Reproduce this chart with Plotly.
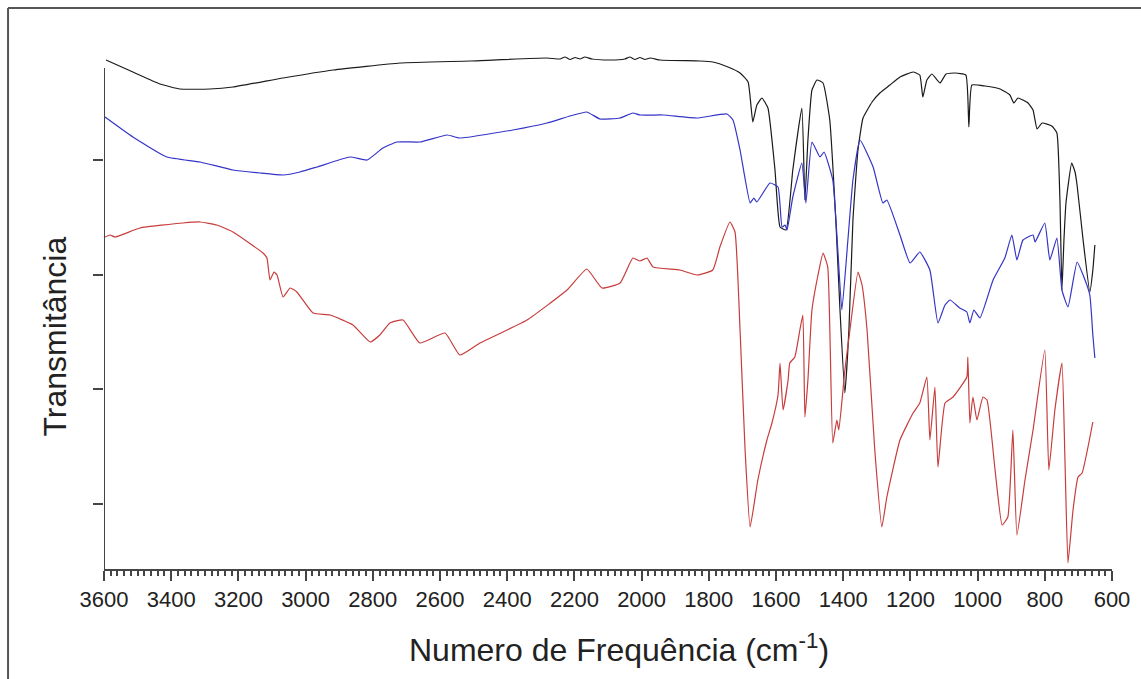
import plotly.graph_objects as go

# Wavenumber (cm-1) and transmittance (arbitrary units) for the three spectra
black_wn = [3594, 3514, 3433, 3374, 3285, 3216, 3067, 2918, 2719, 2511, 2282,
            2243, 2228, 2213, 2198, 2183, 2169, 2148, 2094, 2050, 2035, 2020, 2005,
            1990, 1975, 1945, 1826, 1788, 1743, 1707, 1683, 1669, 1657, 1642, 1624,
            1603, 1588, 1570, 1550, 1523, 1514, 1505, 1493, 1478, 1460, 1440, 1422,
            1410, 1395, 1383, 1371, 1356, 1341, 1314, 1291, 1261, 1231, 1192, 1172,
            1163, 1151, 1136, 1112, 1094, 1067, 1035, 1026, 1017, 978, 933, 904,
            892, 880, 850, 835, 823, 808, 779, 764, 755, 749, 743, 737, 720, 710,
            704, 686, 666, 657, 651]
black_t = [101.8, 99.4, 97.0, 96.0, 96.0, 96.4, 98.2, 99.8, 101.2, 101.6, 102.2,
           102.0, 102.4, 101.9, 102.3, 102.0, 102.4, 102.0, 101.8, 102.0, 102.4, 101.9, 102.3,
           101.9, 102.2, 101.8, 101.6, 101.4, 100.4, 99.2, 97.4, 89.4, 92.8, 94.2, 92.2,
           79.8, 68.4, 67.8, 79.8, 92.2, 73.8, 85.8, 95.8, 97.8, 97.2, 89.8, 69.8,
           52.4, 35.2, 47.8, 69.8, 83.8, 90.2, 93.4, 95.2, 96.8, 98.4, 99.4, 98.8,
           94.4, 97.8, 99.0, 97.2, 99.0, 99.2, 98.8, 88.4, 96.8, 96.6, 96.0, 94.8,
           93.2, 94.2, 93.2, 91.8, 88.0, 89.2, 88.6, 87.2, 73.8, 55.8, 65.8, 73.2, 81.2, 79.4,
           76.8, 65.8, 55.4, 59.8, 64.8]

blue_wn = [3597, 3514, 3413, 3314, 3216, 3136, 3067, 3017, 2966, 2868, 2817, 2770,
           2728, 2660, 2579, 2541, 2383, 2282, 2213, 2163, 2124, 2064, 2026, 2005,
           1936, 1835, 1746, 1728, 1707, 1677, 1666, 1657, 1618, 1594, 1582, 1573,
           1567, 1550, 1523, 1511, 1493, 1469, 1457, 1431, 1416, 1404, 1386, 1371,
           1350, 1311, 1282, 1270, 1231, 1201, 1172, 1142, 1118, 1097, 1082, 1053,
           1032, 1023, 1011, 993, 954, 919, 898, 883, 865, 835, 829, 800, 785, 764,
           749, 731, 704, 686, 666, 657, 651]
blue_t = [90.4, 86.4, 82.4, 81.4, 79.8, 79.2, 78.8, 79.4, 80.4, 82.4, 81.8, 84.2,
          85.4, 85.4, 86.8, 86.2, 87.8, 89.2, 90.6, 91.4, 90.0, 90.2, 91.2, 90.8,
          90.8, 90.2, 91.0, 89.8, 83.8, 73.2, 74.2, 73.4, 77.2, 76.4, 68.4, 68.8,
          67.8, 74.4, 81.2, 73.2, 85.4, 82.4, 83.4, 77.8, 63.8, 51.8, 65.8, 77.8,
          85.8, 80.4, 73.2, 73.8, 66.8, 61.2, 63.4, 59.8, 49.2, 52.8, 53.8, 52.2,
          51.4, 49.2, 51.8, 50.2, 57.8, 62.2, 66.8, 61.8, 65.8, 66.8, 65.4, 69.2, 61.8, 66.2,
          55.8, 52.4, 61.4, 58.8, 54.8, 46.8, 42.2]

red_wn = [3597, 3582, 3567, 3493, 3365, 3314, 3264, 3216, 3127, 3115, 3106, 3094,
          3085, 3067, 3046, 3026, 2978, 2927, 2859, 2808, 2779, 2749, 2710, 2660,
          2585, 2541, 2481, 2341, 2222, 2163, 2118, 2064, 2026, 2005, 1984, 1966,
          1886, 1835, 1788, 1767, 1737, 1722, 1707, 1692, 1677, 1654, 1627, 1612,
          1594, 1588, 1579, 1564, 1559, 1544, 1529, 1520, 1514, 1505, 1493, 1475,
          1460, 1446, 1431, 1419, 1413, 1395, 1380, 1356, 1344, 1329, 1306, 1285,
          1270, 1231, 1192, 1172, 1151, 1142, 1127, 1118, 1097, 1073, 1032, 1029,
          1023, 1014, 1002, 984, 972, 948, 927, 910, 895, 883, 859, 835, 800, 788,
          770, 749, 740, 731, 716, 701, 689, 657]
red_t = [66.4, 66.8, 66.4, 68.2, 69.2, 69.4, 68.8, 67.4, 63.2, 62.2, 57.8, 59.4,
         58.8, 54.4, 56.2, 55.4, 51.2, 50.8, 48.8, 45.4, 46.8, 49.2, 49.8, 45.2,
         47.2, 42.8, 45.2, 49.8, 55.8, 60.0, 56.2, 57.2, 62.2, 61.6, 62.2, 60.4,
         59.8, 58.8, 59.8, 64.4, 69.4, 67.4, 47.8, 23.8, 8.4, 17.8, 25.8, 29.2,
         34.8, 41.2, 31.8, 37.8, 41.2, 42.4, 47.8, 50.8, 30.4, 37.8, 51.8, 58.8,
         63.2, 60.4, 25.2, 29.8, 27.8, 39.8, 47.8, 59.4, 56.8, 47.8, 23.8, 8.4,
         14.4, 25.8, 31.2, 33.2, 38.4, 25.8, 36.4, 20.4, 33.2, 34.4, 38.4, 42.4,
         29.2, 34.4, 29.8, 34.4, 33.8, 19.8, 8.8, 10.4, 27.8, 6.8, 17.8, 27.8, 43.8, 19.8,
         31.8, 41.2, 21.8, 1.2, 11.8, 18.4, 19.2, 29.4]

x_ticks = [3600, 3400, 3200, 3000, 2800, 2600, 2400, 2200, 2000, 1800,
           1600, 1400, 1200, 1000, 800, 600]
y_ticks = [13.1, 36.0, 58.9, 81.8]

FONT = "Liberation Sans, Arial, sans-serif"
AXC = "#454545"

fig = go.Figure()
for xs, ys, col in [(black_wn, black_t, "#1a1a1a"),
                    (blue_wn, blue_t, "#3434c8"),
                    (red_wn, red_t, "#c83c3c")]:
    fig.add_trace(go.Scatter(x=xs, y=ys, mode="lines",
                             line=dict(color=col, width=1.2, shape="spline", smoothing=0.4),
                             showlegend=False))

fig.update_layout(
    width=1141, height=679,
    margin=dict(l=104, r=29, t=50, b=110),
    paper_bgcolor="white", plot_bgcolor="white",
    font=dict(family=FONT, color="#222"),
    xaxis=dict(range=[3600, 600], showgrid=False, zeroline=False,
               showline=True, linecolor=AXC, linewidth=2,
               tickmode="array", tickvals=x_ticks,
               ticktext=[str(v) for v in x_ticks],
               ticks="outside", ticklen=10, tickwidth=2, tickcolor=AXC,
               tickfont=dict(size=22, color="#222", family=FONT),
               minor=dict(ticks="outside", dtick=20, tick0=600, ticklen=5,
                          tickwidth=1.5, tickcolor=AXC, showgrid=False)),
    yaxis=dict(range=[0, 103.8], showgrid=False, zeroline=False,
               showline=False, tickmode="array", tickvals=y_ticks,
               showticklabels=False, ticks="outside", ticklen=10,
               tickwidth=2, tickcolor=AXC),
    shapes=[
        dict(type="line", xref="x", yref="y", x0=3600, x1=3600, y0=0, y1=100.2,
             line=dict(color=AXC, width=2)),
        dict(type="line", xref="paper", yref="paper", x0=-0.0952, x1=1.06,
             y0=1.0809, y1=1.0809, line=dict(color="#555", width=2)),
        dict(type="line", xref="paper", yref="paper", x0=-0.0952, x1=-0.0952,
             y0=1.0809, y1=-0.3, line=dict(color="#555", width=2)),
    ],
    annotations=[
        dict(text="Numero de Frequência (cm<sup>-1</sup>)", xref="paper", yref="paper",
             x=0.5114, y=-0.152, xanchor="center", yanchor="middle", showarrow=False,
             font=dict(size=32, color="#222", family=FONT)),
        dict(text="Transmitância", xref="paper", yref="paper",
             x=-0.0486, y=0.448, xanchor="center", yanchor="middle", showarrow=False,
             textangle=-90, font=dict(size=32, color="#222", family=FONT)),
    ],
)

fig.write_html("out.html")
